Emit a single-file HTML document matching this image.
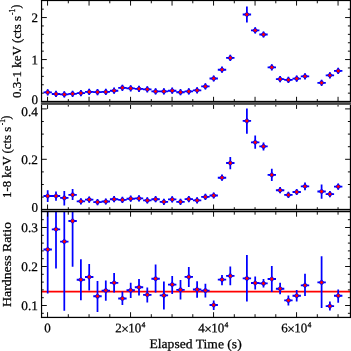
<!DOCTYPE html><html><head><meta charset="utf-8"><style>html,body{margin:0;padding:0;background:#fff}svg{display:block;will-change:transform}text{font-family:"Liberation Serif",serif;fill:#000;stroke:#000;stroke-width:0.25px}</style></head><body>
<svg width="351" height="351" viewBox="0 0 351 351">
<rect width="351" height="351" fill="#fff"/>
<defs>
<clipPath id="c0"><rect x="41.55" y="0.5" width="308.9" height="101.1"/></clipPath>
<clipPath id="c104"><rect x="41.55" y="104.0" width="308.9" height="105.4"/></clipPath>
<clipPath id="c211"><rect x="41.55" y="211.5" width="308.9" height="105.89999999999998"/></clipPath>
</defs>
<path d="M41.55 291.6H350.45" stroke="#ff0000" stroke-width="1.9"/>
<g clip-path="url(#c0)">
<path d="M43.50 92.30h8.4M51.80 93.95h8.4M60.10 94.40h8.4M68.40 93.80h8.4M76.70 93.10h8.4M85.00 91.90h8.4M93.30 92.10h8.4M101.60 91.90h8.4M109.90 90.70h8.4M118.20 87.80h8.4M126.50 88.30h8.4M134.80 88.80h8.4M143.10 89.30h8.4M151.40 91.40h8.4M159.70 91.40h8.4M168.00 90.70h8.4M176.30 92.20h8.4M184.60 91.40h8.4M192.90 90.30h8.4M201.20 86.40h8.4M209.50 78.50h8.4M217.80 69.70h8.4M226.10 57.90h8.4M242.70 14.50h8.4M251.00 30.40h8.4M259.30 34.50h8.4M267.60 67.30h8.4M275.90 79.10h8.4M284.20 79.90h8.4M292.50 78.60h8.4M300.80 76.30h8.4M317.40 82.80h8.4M325.70 75.30h8.4M334.00 70.90h8.4" stroke="#0000ff" stroke-width="1.85" fill="none"/>
<path d="M47.70 89.20V95.40M56.00 90.85V97.05M64.30 91.30V97.50M72.60 90.70V96.90M80.90 90.00V96.20M89.20 88.80V95.00M97.50 89.00V95.20M105.80 88.80V95.00M114.10 87.60V93.80M122.40 84.70V90.90M130.70 85.20V91.40M139.00 85.70V91.90M147.30 86.20V92.40M155.60 88.30V94.50M163.90 88.30V94.50M172.20 87.60V93.80M180.50 89.10V95.30M188.80 88.30V94.50M197.10 87.20V93.40M205.40 83.30V89.50M213.70 75.40V81.60M222.00 66.60V72.80M230.30 54.80V61.00M246.90 6.50V22.60M255.20 27.30V33.50M263.50 31.40V37.60M271.80 64.20V70.40M280.10 76.00V82.20M288.40 76.80V83.00M296.70 75.50V81.70M305.00 73.20V79.40M321.60 79.70V85.90M329.90 72.20V78.40M338.20 67.80V74.00" stroke="#0000ff" stroke-width="1.75" fill="none"/>
<path d="M47.70 89.25l3.05 3.05l-3.05 3.05l-3.05 -3.05zM56.00 90.90l3.05 3.05l-3.05 3.05l-3.05 -3.05zM64.30 91.35l3.05 3.05l-3.05 3.05l-3.05 -3.05zM72.60 90.75l3.05 3.05l-3.05 3.05l-3.05 -3.05zM80.90 90.05l3.05 3.05l-3.05 3.05l-3.05 -3.05zM89.20 88.85l3.05 3.05l-3.05 3.05l-3.05 -3.05zM97.50 89.05l3.05 3.05l-3.05 3.05l-3.05 -3.05zM105.80 88.85l3.05 3.05l-3.05 3.05l-3.05 -3.05zM114.10 87.65l3.05 3.05l-3.05 3.05l-3.05 -3.05zM122.40 84.75l3.05 3.05l-3.05 3.05l-3.05 -3.05zM130.70 85.25l3.05 3.05l-3.05 3.05l-3.05 -3.05zM139.00 85.75l3.05 3.05l-3.05 3.05l-3.05 -3.05zM147.30 86.25l3.05 3.05l-3.05 3.05l-3.05 -3.05zM155.60 88.35l3.05 3.05l-3.05 3.05l-3.05 -3.05zM163.90 88.35l3.05 3.05l-3.05 3.05l-3.05 -3.05zM172.20 87.65l3.05 3.05l-3.05 3.05l-3.05 -3.05zM180.50 89.15l3.05 3.05l-3.05 3.05l-3.05 -3.05zM188.80 88.35l3.05 3.05l-3.05 3.05l-3.05 -3.05zM197.10 87.25l3.05 3.05l-3.05 3.05l-3.05 -3.05zM205.40 83.35l3.05 3.05l-3.05 3.05l-3.05 -3.05zM213.70 75.45l3.05 3.05l-3.05 3.05l-3.05 -3.05zM222.00 66.65l3.05 3.05l-3.05 3.05l-3.05 -3.05zM230.30 54.85l3.05 3.05l-3.05 3.05l-3.05 -3.05zM246.90 11.45l3.05 3.05l-3.05 3.05l-3.05 -3.05zM255.20 27.35l3.05 3.05l-3.05 3.05l-3.05 -3.05zM263.50 31.45l3.05 3.05l-3.05 3.05l-3.05 -3.05zM271.80 64.25l3.05 3.05l-3.05 3.05l-3.05 -3.05zM280.10 76.05l3.05 3.05l-3.05 3.05l-3.05 -3.05zM288.40 76.85l3.05 3.05l-3.05 3.05l-3.05 -3.05zM296.70 75.55l3.05 3.05l-3.05 3.05l-3.05 -3.05zM305.00 73.25l3.05 3.05l-3.05 3.05l-3.05 -3.05zM321.60 79.75l3.05 3.05l-3.05 3.05l-3.05 -3.05zM329.90 72.25l3.05 3.05l-3.05 3.05l-3.05 -3.05zM338.20 67.85l3.05 3.05l-3.05 3.05l-3.05 -3.05z" fill="#0000ff"/>
<path d="M47.70 90.40l1.9 1.9l-1.9 1.9l-1.9 -1.9zM56.00 92.05l1.9 1.9l-1.9 1.9l-1.9 -1.9zM64.30 92.50l1.9 1.9l-1.9 1.9l-1.9 -1.9zM72.60 91.90l1.9 1.9l-1.9 1.9l-1.9 -1.9zM80.90 91.20l1.9 1.9l-1.9 1.9l-1.9 -1.9zM89.20 90.00l1.9 1.9l-1.9 1.9l-1.9 -1.9zM97.50 90.20l1.9 1.9l-1.9 1.9l-1.9 -1.9zM105.80 90.00l1.9 1.9l-1.9 1.9l-1.9 -1.9zM114.10 88.80l1.9 1.9l-1.9 1.9l-1.9 -1.9zM122.40 85.90l1.9 1.9l-1.9 1.9l-1.9 -1.9zM130.70 86.40l1.9 1.9l-1.9 1.9l-1.9 -1.9zM139.00 86.90l1.9 1.9l-1.9 1.9l-1.9 -1.9zM147.30 87.40l1.9 1.9l-1.9 1.9l-1.9 -1.9zM155.60 89.50l1.9 1.9l-1.9 1.9l-1.9 -1.9zM163.90 89.50l1.9 1.9l-1.9 1.9l-1.9 -1.9zM172.20 88.80l1.9 1.9l-1.9 1.9l-1.9 -1.9zM180.50 90.30l1.9 1.9l-1.9 1.9l-1.9 -1.9zM188.80 89.50l1.9 1.9l-1.9 1.9l-1.9 -1.9zM197.10 88.40l1.9 1.9l-1.9 1.9l-1.9 -1.9zM205.40 84.50l1.9 1.9l-1.9 1.9l-1.9 -1.9zM213.70 76.60l1.9 1.9l-1.9 1.9l-1.9 -1.9zM222.00 67.80l1.9 1.9l-1.9 1.9l-1.9 -1.9zM230.30 56.00l1.9 1.9l-1.9 1.9l-1.9 -1.9zM246.90 12.60l1.9 1.9l-1.9 1.9l-1.9 -1.9zM255.20 28.50l1.9 1.9l-1.9 1.9l-1.9 -1.9zM263.50 32.60l1.9 1.9l-1.9 1.9l-1.9 -1.9zM271.80 65.40l1.9 1.9l-1.9 1.9l-1.9 -1.9zM280.10 77.20l1.9 1.9l-1.9 1.9l-1.9 -1.9zM288.40 78.00l1.9 1.9l-1.9 1.9l-1.9 -1.9zM296.70 76.70l1.9 1.9l-1.9 1.9l-1.9 -1.9zM305.00 74.40l1.9 1.9l-1.9 1.9l-1.9 -1.9zM321.60 80.90l1.9 1.9l-1.9 1.9l-1.9 -1.9zM329.90 73.40l1.9 1.9l-1.9 1.9l-1.9 -1.9zM338.20 69.00l1.9 1.9l-1.9 1.9l-1.9 -1.9z" fill="#ff0000"/>
</g>
<g clip-path="url(#c104)">
<path d="M43.50 196.00h8.4M51.80 196.00h8.4M60.10 197.90h8.4M68.40 194.80h8.4M76.70 201.30h8.4M85.00 199.60h8.4M93.30 202.10h8.4M101.60 201.50h8.4M109.90 199.20h8.4M118.20 199.90h8.4M126.50 198.70h8.4M134.80 198.40h8.4M143.10 200.40h8.4M151.40 199.20h8.4M159.70 201.80h8.4M168.00 199.40h8.4M176.30 201.80h8.4M184.60 199.10h8.4M192.90 200.30h8.4M201.20 196.90h8.4M209.50 195.50h8.4M217.80 177.70h8.4M226.10 163.00h8.4M242.70 120.90h8.4M251.00 142.30h8.4M259.30 146.40h8.4M267.60 174.90h8.4M275.90 190.20h8.4M284.20 194.90h8.4M292.50 192.00h8.4M300.80 186.30h8.4M317.40 191.50h8.4M325.70 194.10h8.4M334.00 186.60h8.4" stroke="#0000ff" stroke-width="1.85" fill="none"/>
<path d="M47.70 190.20V202.00M56.00 191.40V200.80M64.30 190.90V205.60M72.60 189.10V199.90M80.90 198.20V204.40M89.20 196.50V202.70M97.50 199.00V205.20M105.80 198.40V204.60M114.10 196.10V202.30M122.40 196.80V203.00M130.70 195.60V201.80M139.00 195.30V201.50M147.30 197.30V203.50M155.60 196.10V202.30M163.90 198.70V204.90M172.20 196.30V202.50M180.50 198.70V204.90M188.80 196.00V202.20M197.10 197.20V203.40M205.40 193.80V200.00M213.70 192.40V198.60M222.00 174.60V180.80M230.30 157.00V169.20M246.90 108.50V133.80M255.20 135.50V148.80M263.50 142.50V150.60M271.80 168.70V181.10M280.10 187.10V193.30M288.40 191.80V198.00M296.70 188.90V195.10M305.00 182.40V190.20M321.60 184.50V198.70M329.90 191.00V197.20M338.20 183.50V189.70" stroke="#0000ff" stroke-width="1.75" fill="none"/>
<path d="M47.70 192.95l3.05 3.05l-3.05 3.05l-3.05 -3.05zM56.00 192.95l3.05 3.05l-3.05 3.05l-3.05 -3.05zM64.30 194.85l3.05 3.05l-3.05 3.05l-3.05 -3.05zM72.60 191.75l3.05 3.05l-3.05 3.05l-3.05 -3.05zM80.90 198.25l3.05 3.05l-3.05 3.05l-3.05 -3.05zM89.20 196.55l3.05 3.05l-3.05 3.05l-3.05 -3.05zM97.50 199.05l3.05 3.05l-3.05 3.05l-3.05 -3.05zM105.80 198.45l3.05 3.05l-3.05 3.05l-3.05 -3.05zM114.10 196.15l3.05 3.05l-3.05 3.05l-3.05 -3.05zM122.40 196.85l3.05 3.05l-3.05 3.05l-3.05 -3.05zM130.70 195.65l3.05 3.05l-3.05 3.05l-3.05 -3.05zM139.00 195.35l3.05 3.05l-3.05 3.05l-3.05 -3.05zM147.30 197.35l3.05 3.05l-3.05 3.05l-3.05 -3.05zM155.60 196.15l3.05 3.05l-3.05 3.05l-3.05 -3.05zM163.90 198.75l3.05 3.05l-3.05 3.05l-3.05 -3.05zM172.20 196.35l3.05 3.05l-3.05 3.05l-3.05 -3.05zM180.50 198.75l3.05 3.05l-3.05 3.05l-3.05 -3.05zM188.80 196.05l3.05 3.05l-3.05 3.05l-3.05 -3.05zM197.10 197.25l3.05 3.05l-3.05 3.05l-3.05 -3.05zM205.40 193.85l3.05 3.05l-3.05 3.05l-3.05 -3.05zM213.70 192.45l3.05 3.05l-3.05 3.05l-3.05 -3.05zM222.00 174.65l3.05 3.05l-3.05 3.05l-3.05 -3.05zM230.30 159.95l3.05 3.05l-3.05 3.05l-3.05 -3.05zM246.90 117.85l3.05 3.05l-3.05 3.05l-3.05 -3.05zM255.20 139.25l3.05 3.05l-3.05 3.05l-3.05 -3.05zM263.50 143.35l3.05 3.05l-3.05 3.05l-3.05 -3.05zM271.80 171.85l3.05 3.05l-3.05 3.05l-3.05 -3.05zM280.10 187.15l3.05 3.05l-3.05 3.05l-3.05 -3.05zM288.40 191.85l3.05 3.05l-3.05 3.05l-3.05 -3.05zM296.70 188.95l3.05 3.05l-3.05 3.05l-3.05 -3.05zM305.00 183.25l3.05 3.05l-3.05 3.05l-3.05 -3.05zM321.60 188.45l3.05 3.05l-3.05 3.05l-3.05 -3.05zM329.90 191.05l3.05 3.05l-3.05 3.05l-3.05 -3.05zM338.20 183.55l3.05 3.05l-3.05 3.05l-3.05 -3.05z" fill="#0000ff"/>
<path d="M47.70 194.10l1.9 1.9l-1.9 1.9l-1.9 -1.9zM56.00 194.10l1.9 1.9l-1.9 1.9l-1.9 -1.9zM64.30 196.00l1.9 1.9l-1.9 1.9l-1.9 -1.9zM72.60 192.90l1.9 1.9l-1.9 1.9l-1.9 -1.9zM80.90 199.40l1.9 1.9l-1.9 1.9l-1.9 -1.9zM89.20 197.70l1.9 1.9l-1.9 1.9l-1.9 -1.9zM97.50 200.20l1.9 1.9l-1.9 1.9l-1.9 -1.9zM105.80 199.60l1.9 1.9l-1.9 1.9l-1.9 -1.9zM114.10 197.30l1.9 1.9l-1.9 1.9l-1.9 -1.9zM122.40 198.00l1.9 1.9l-1.9 1.9l-1.9 -1.9zM130.70 196.80l1.9 1.9l-1.9 1.9l-1.9 -1.9zM139.00 196.50l1.9 1.9l-1.9 1.9l-1.9 -1.9zM147.30 198.50l1.9 1.9l-1.9 1.9l-1.9 -1.9zM155.60 197.30l1.9 1.9l-1.9 1.9l-1.9 -1.9zM163.90 199.90l1.9 1.9l-1.9 1.9l-1.9 -1.9zM172.20 197.50l1.9 1.9l-1.9 1.9l-1.9 -1.9zM180.50 199.90l1.9 1.9l-1.9 1.9l-1.9 -1.9zM188.80 197.20l1.9 1.9l-1.9 1.9l-1.9 -1.9zM197.10 198.40l1.9 1.9l-1.9 1.9l-1.9 -1.9zM205.40 195.00l1.9 1.9l-1.9 1.9l-1.9 -1.9zM213.70 193.60l1.9 1.9l-1.9 1.9l-1.9 -1.9zM222.00 175.80l1.9 1.9l-1.9 1.9l-1.9 -1.9zM230.30 161.10l1.9 1.9l-1.9 1.9l-1.9 -1.9zM246.90 119.00l1.9 1.9l-1.9 1.9l-1.9 -1.9zM255.20 140.40l1.9 1.9l-1.9 1.9l-1.9 -1.9zM263.50 144.50l1.9 1.9l-1.9 1.9l-1.9 -1.9zM271.80 173.00l1.9 1.9l-1.9 1.9l-1.9 -1.9zM280.10 188.30l1.9 1.9l-1.9 1.9l-1.9 -1.9zM288.40 193.00l1.9 1.9l-1.9 1.9l-1.9 -1.9zM296.70 190.10l1.9 1.9l-1.9 1.9l-1.9 -1.9zM305.00 184.40l1.9 1.9l-1.9 1.9l-1.9 -1.9zM321.60 189.60l1.9 1.9l-1.9 1.9l-1.9 -1.9zM329.90 192.20l1.9 1.9l-1.9 1.9l-1.9 -1.9zM338.20 184.70l1.9 1.9l-1.9 1.9l-1.9 -1.9z" fill="#ff0000"/>
</g>
<g clip-path="url(#c211)">
<path d="M43.50 249.50h8.4M51.80 229.30h8.4M60.10 241.60h8.4M68.40 221.00h8.4M76.70 279.70h8.4M85.00 277.00h8.4M93.30 296.20h8.4M101.60 290.60h8.4M109.90 282.80h8.4M118.20 298.50h8.4M126.50 290.20h8.4M134.80 287.20h8.4M143.10 294.80h8.4M151.40 278.70h8.4M159.70 295.40h8.4M168.00 284.60h8.4M176.30 289.80h8.4M184.60 276.90h8.4M192.90 289.50h8.4M201.20 290.60h8.4M209.50 305.00h8.4M217.80 279.60h8.4M226.10 275.90h8.4M242.70 278.40h8.4M251.00 283.00h8.4M259.30 283.40h8.4M267.60 279.00h8.4M275.90 288.70h8.4M284.20 300.40h8.4M292.50 295.70h8.4M300.80 285.30h8.4M317.40 282.40h8.4M325.70 306.10h8.4M334.00 295.70h8.4" stroke="#0000ff" stroke-width="1.85" fill="none"/>
<path d="M47.70 200.00V293.40M56.00 200.00V268.50M64.30 200.00V310.70M72.60 200.00V266.70M80.90 259.30V300.20M89.20 263.90V290.50M97.50 280.90V311.90M105.80 280.60V300.70M114.10 273.00V292.60M122.40 291.50V305.00M130.70 282.80V298.00M139.00 279.10V295.40M147.30 287.40V302.50M155.60 264.60V292.60M163.90 281.50V309.60M172.20 275.90V293.90M180.50 280.00V299.40M188.80 267.00V286.90M197.10 281.30V297.80M205.40 283.70V297.60M213.70 300.40V310.00M222.00 275.00V285.20M230.30 266.50V285.20M246.90 255.10V301.40M255.20 276.60V289.40M263.50 279.00V287.50M271.80 266.00V291.90M280.10 282.70V294.30M288.40 295.40V305.60M296.70 289.90V301.50M305.00 273.70V295.90M321.60 256.30V308.00M329.90 301.50V310.40M338.20 289.60V302.70" stroke="#0000ff" stroke-width="1.75" fill="none"/>
<path d="M47.70 246.45l3.05 3.05l-3.05 3.05l-3.05 -3.05zM56.00 226.25l3.05 3.05l-3.05 3.05l-3.05 -3.05zM64.30 238.55l3.05 3.05l-3.05 3.05l-3.05 -3.05zM72.60 217.95l3.05 3.05l-3.05 3.05l-3.05 -3.05zM80.90 276.65l3.05 3.05l-3.05 3.05l-3.05 -3.05zM89.20 273.95l3.05 3.05l-3.05 3.05l-3.05 -3.05zM97.50 293.15l3.05 3.05l-3.05 3.05l-3.05 -3.05zM105.80 287.55l3.05 3.05l-3.05 3.05l-3.05 -3.05zM114.10 279.75l3.05 3.05l-3.05 3.05l-3.05 -3.05zM122.40 295.45l3.05 3.05l-3.05 3.05l-3.05 -3.05zM130.70 287.15l3.05 3.05l-3.05 3.05l-3.05 -3.05zM139.00 284.15l3.05 3.05l-3.05 3.05l-3.05 -3.05zM147.30 291.75l3.05 3.05l-3.05 3.05l-3.05 -3.05zM155.60 275.65l3.05 3.05l-3.05 3.05l-3.05 -3.05zM163.90 292.35l3.05 3.05l-3.05 3.05l-3.05 -3.05zM172.20 281.55l3.05 3.05l-3.05 3.05l-3.05 -3.05zM180.50 286.75l3.05 3.05l-3.05 3.05l-3.05 -3.05zM188.80 273.85l3.05 3.05l-3.05 3.05l-3.05 -3.05zM197.10 286.45l3.05 3.05l-3.05 3.05l-3.05 -3.05zM205.40 287.55l3.05 3.05l-3.05 3.05l-3.05 -3.05zM213.70 301.95l3.05 3.05l-3.05 3.05l-3.05 -3.05zM222.00 276.55l3.05 3.05l-3.05 3.05l-3.05 -3.05zM230.30 272.85l3.05 3.05l-3.05 3.05l-3.05 -3.05zM246.90 275.35l3.05 3.05l-3.05 3.05l-3.05 -3.05zM255.20 279.95l3.05 3.05l-3.05 3.05l-3.05 -3.05zM263.50 280.35l3.05 3.05l-3.05 3.05l-3.05 -3.05zM271.80 275.95l3.05 3.05l-3.05 3.05l-3.05 -3.05zM280.10 285.65l3.05 3.05l-3.05 3.05l-3.05 -3.05zM288.40 297.35l3.05 3.05l-3.05 3.05l-3.05 -3.05zM296.70 292.65l3.05 3.05l-3.05 3.05l-3.05 -3.05zM305.00 282.25l3.05 3.05l-3.05 3.05l-3.05 -3.05zM321.60 279.35l3.05 3.05l-3.05 3.05l-3.05 -3.05zM329.90 303.05l3.05 3.05l-3.05 3.05l-3.05 -3.05zM338.20 292.65l3.05 3.05l-3.05 3.05l-3.05 -3.05z" fill="#0000ff"/>
<path d="M47.70 247.60l1.9 1.9l-1.9 1.9l-1.9 -1.9zM56.00 227.40l1.9 1.9l-1.9 1.9l-1.9 -1.9zM64.30 239.70l1.9 1.9l-1.9 1.9l-1.9 -1.9zM72.60 219.10l1.9 1.9l-1.9 1.9l-1.9 -1.9zM80.90 277.80l1.9 1.9l-1.9 1.9l-1.9 -1.9zM89.20 275.10l1.9 1.9l-1.9 1.9l-1.9 -1.9zM97.50 294.30l1.9 1.9l-1.9 1.9l-1.9 -1.9zM105.80 288.70l1.9 1.9l-1.9 1.9l-1.9 -1.9zM114.10 280.90l1.9 1.9l-1.9 1.9l-1.9 -1.9zM122.40 296.60l1.9 1.9l-1.9 1.9l-1.9 -1.9zM130.70 288.30l1.9 1.9l-1.9 1.9l-1.9 -1.9zM139.00 285.30l1.9 1.9l-1.9 1.9l-1.9 -1.9zM147.30 292.90l1.9 1.9l-1.9 1.9l-1.9 -1.9zM155.60 276.80l1.9 1.9l-1.9 1.9l-1.9 -1.9zM163.90 293.50l1.9 1.9l-1.9 1.9l-1.9 -1.9zM172.20 282.70l1.9 1.9l-1.9 1.9l-1.9 -1.9zM180.50 287.90l1.9 1.9l-1.9 1.9l-1.9 -1.9zM188.80 275.00l1.9 1.9l-1.9 1.9l-1.9 -1.9zM197.10 287.60l1.9 1.9l-1.9 1.9l-1.9 -1.9zM205.40 288.70l1.9 1.9l-1.9 1.9l-1.9 -1.9zM213.70 303.10l1.9 1.9l-1.9 1.9l-1.9 -1.9zM222.00 277.70l1.9 1.9l-1.9 1.9l-1.9 -1.9zM230.30 274.00l1.9 1.9l-1.9 1.9l-1.9 -1.9zM246.90 276.50l1.9 1.9l-1.9 1.9l-1.9 -1.9zM255.20 281.10l1.9 1.9l-1.9 1.9l-1.9 -1.9zM263.50 281.50l1.9 1.9l-1.9 1.9l-1.9 -1.9zM271.80 277.10l1.9 1.9l-1.9 1.9l-1.9 -1.9zM280.10 286.80l1.9 1.9l-1.9 1.9l-1.9 -1.9zM288.40 298.50l1.9 1.9l-1.9 1.9l-1.9 -1.9zM296.70 293.80l1.9 1.9l-1.9 1.9l-1.9 -1.9zM305.00 283.40l1.9 1.9l-1.9 1.9l-1.9 -1.9zM321.60 280.50l1.9 1.9l-1.9 1.9l-1.9 -1.9zM329.90 304.20l1.9 1.9l-1.9 1.9l-1.9 -1.9zM338.20 293.80l1.9 1.9l-1.9 1.9l-1.9 -1.9z" fill="#ff0000"/>
</g>
<path d="M47.55 0.50V5.60M68.30 0.50V3.30M89.05 0.50V5.60M109.80 0.50V3.30M130.55 0.50V5.60M151.30 0.50V3.30M172.05 0.50V5.60M192.80 0.50V3.30M213.55 0.50V5.60M234.30 0.50V3.30M255.05 0.50V5.60M275.80 0.50V3.30M296.55 0.50V5.60M317.30 0.50V3.30M338.05 0.50V5.60M47.55 101.60V96.80M68.30 101.60V99.10M89.05 101.60V96.80M109.80 101.60V99.10M130.55 101.60V96.80M151.30 101.60V99.10M172.05 101.60V96.80M192.80 101.60V99.10M213.55 101.60V96.80M234.30 101.60V99.10M255.05 101.60V96.80M275.80 101.60V99.10M296.55 101.60V96.80M317.30 101.60V99.10M338.05 101.60V96.80M47.55 104.00V108.90M68.30 104.00V106.60M89.05 104.00V106.60M109.80 104.00V106.60M130.55 104.00V108.90M151.30 104.00V106.60M172.05 104.00V106.60M192.80 104.00V106.60M213.55 104.00V108.90M234.30 104.00V106.60M255.05 104.00V106.60M275.80 104.00V106.60M296.55 104.00V108.90M317.30 104.00V106.60M338.05 104.00V106.60M47.55 209.40V204.50M68.30 209.40V207.20M89.05 209.40V207.20M109.80 209.40V207.20M130.55 209.40V204.50M151.30 209.40V207.20M172.05 209.40V207.20M192.80 209.40V207.20M213.55 209.40V204.50M234.30 209.40V207.20M255.05 209.40V207.20M275.80 209.40V207.20M296.55 209.40V204.50M317.30 209.40V207.20M338.05 209.40V207.20M47.55 211.50V216.70M68.30 211.50V214.70M89.05 211.50V214.70M109.80 211.50V214.70M130.55 211.50V216.70M151.30 211.50V214.70M172.05 211.50V214.70M192.80 211.50V214.70M213.55 211.50V216.70M234.30 211.50V214.70M255.05 211.50V214.70M275.80 211.50V214.70M296.55 211.50V216.70M317.30 211.50V214.70M338.05 211.50V214.70M47.55 317.40V312.20M68.30 317.40V314.20M89.05 317.40V314.20M109.80 317.40V314.20M130.55 317.40V312.20M151.30 317.40V314.20M172.05 317.40V314.20M192.80 317.40V314.20M213.55 317.40V312.20M234.30 317.40V314.20M255.05 317.40V314.20M275.80 317.40V314.20M296.55 317.40V312.20M317.30 317.40V314.20M338.05 317.40V314.20M41.55 93.15H43.8M350.45 93.15H347.9M41.55 84.75H43.8M350.45 84.75H347.9M41.55 76.35H43.8M350.45 76.35H347.9M41.55 67.95H43.8M350.45 67.95H347.9M41.55 59.55H46.8M350.45 59.55H345.1M41.55 51.15H43.8M350.45 51.15H347.9M41.55 42.75H43.8M350.45 42.75H347.9M41.55 34.35H43.8M350.45 34.35H347.9M41.55 25.95H43.8M350.45 25.95H347.9M41.55 17.55H46.8M350.45 17.55H345.1M41.55 9.15H43.8M350.45 9.15H347.9M41.55 197.10H43.8M350.45 197.10H347.9M41.55 184.50H43.8M350.45 184.50H347.9M41.55 171.90H43.8M350.45 171.90H347.9M41.55 159.30H46.8M350.45 159.30H345.1M41.55 146.70H43.8M350.45 146.70H347.9M41.55 134.10H43.8M350.45 134.10H347.9M41.55 121.50H43.8M350.45 121.50H347.9M41.55 108.90H46.8M350.45 108.90H345.1M41.55 313.30H43.8M350.45 313.30H347.9M41.55 305.50H46.8M350.45 305.50H345.1M41.55 297.70H43.8M350.45 297.70H347.9M41.55 289.90H43.8M350.45 289.90H347.9M41.55 282.10H43.8M350.45 282.10H347.9M41.55 274.30H43.8M350.45 274.30H347.9M41.55 266.50H46.8M350.45 266.50H345.1M41.55 258.70H43.8M350.45 258.70H347.9M41.55 250.90H43.8M350.45 250.90H347.9M41.55 243.10H43.8M350.45 243.10H347.9M41.55 235.30H43.8M350.45 235.30H347.9M41.55 227.50H46.8M350.45 227.50H345.1M41.55 219.70H43.8M350.45 219.70H347.9" stroke="#000" stroke-width="0.95" fill="none"/>
<rect x="40.95" y="-1" width="1.2" height="319.05" fill="#000"/>
<rect x="349.85" y="-1" width="1.2" height="319.05" fill="#000"/>
<rect x="40.95" y="102" width="310.10" height="1" fill="#5c5c5c"/>
<rect x="40.95" y="103" width="310.10" height="1" fill="#464646"/>
<rect x="40.95" y="104" width="310.10" height="1" fill="#585858"/>
<rect x="40.95" y="-0.2" width="310.10" height="1.30" fill="#000"/>
<rect x="40.95" y="100.85" width="310.10" height="1.15" fill="#000"/>
<rect x="40.95" y="208.85" width="310.10" height="1.40" fill="#000"/>
<rect x="40.95" y="210.72" width="310.10" height="1.53" fill="#000"/>
<rect x="40.95" y="316.8" width="310.10" height="1.25" fill="#000"/>
<g>
<text x="37.9" y="21.9" transform="rotate(0.05 37.9 21.9)" font-size="13.0" text-anchor="end">2</text>
<text x="37.9" y="64.2" transform="rotate(0.05 37.9 64.2)" font-size="13.0" text-anchor="end">1</text>
<text x="37.9" y="104.1" transform="rotate(0.05 37.9 104.1)" font-size="13.0" text-anchor="end">0</text>
<text x="37.9" y="115.9" transform="rotate(0.05 37.9 115.9)" font-size="13.0" text-anchor="end" textLength="16.6" lengthAdjust="spacingAndGlyphs">0.4</text>
<text x="37.9" y="163.9" transform="rotate(0.05 37.9 163.9)" font-size="13.0" text-anchor="end" textLength="16.6" lengthAdjust="spacingAndGlyphs">0.2</text>
<text x="37.9" y="211.8" transform="rotate(0.05 37.9 211.8)" font-size="13.0" text-anchor="end">0</text>
<text x="37.9" y="232.1" transform="rotate(0.05 37.9 232.1)" font-size="13.0" text-anchor="end" textLength="16.6" lengthAdjust="spacingAndGlyphs">0.3</text>
<text x="37.9" y="271.0" transform="rotate(0.05 37.9 271.0)" font-size="13.0" text-anchor="end" textLength="16.6" lengthAdjust="spacingAndGlyphs">0.2</text>
<text x="37.9" y="310.0" transform="rotate(0.05 37.9 310.0)" font-size="13.0" text-anchor="end" textLength="16.6" lengthAdjust="spacingAndGlyphs">0.1</text>
<text x="47.60" y="332.20" transform="rotate(0.05 47.60 332.20)" font-size="13.0" text-anchor="middle">0</text>
<text x="115.25" y="332.20" transform="rotate(0.05 115.25 332.20)" font-size="13.0">2</text>
<text x="121.25" y="333.50" transform="rotate(0.05 121.25 333.50)" font-size="13.4">×</text>
<text x="128.15" y="332.20" transform="rotate(0.05 128.15 332.20)" font-size="13.0" textLength="13.0" lengthAdjust="spacingAndGlyphs">10</text>
<text x="141.55" y="327.20" transform="rotate(0.05 141.55 327.20)" font-size="7.7">4</text>
<text x="198.25" y="332.20" transform="rotate(0.05 198.25 332.20)" font-size="13.0">4</text>
<text x="204.25" y="333.50" transform="rotate(0.05 204.25 333.50)" font-size="13.4">×</text>
<text x="211.15" y="332.20" transform="rotate(0.05 211.15 332.20)" font-size="13.0" textLength="13.0" lengthAdjust="spacingAndGlyphs">10</text>
<text x="224.55" y="327.20" transform="rotate(0.05 224.55 327.20)" font-size="7.7">4</text>
<text x="281.25" y="332.20" transform="rotate(0.05 281.25 332.20)" font-size="13.0">6</text>
<text x="287.25" y="333.50" transform="rotate(0.05 287.25 333.50)" font-size="13.4">×</text>
<text x="294.15" y="332.20" transform="rotate(0.05 294.15 332.20)" font-size="13.0" textLength="13.0" lengthAdjust="spacingAndGlyphs">10</text>
<text x="307.55" y="327.20" transform="rotate(0.05 307.55 327.20)" font-size="7.7">4</text>
<text x="149.5" y="348.1" transform="rotate(0.05 149.5 348.1)" font-size="13.0" textLength="92.2" lengthAdjust="spacingAndGlyphs">Elapsed Time (s)</text>
<g transform="translate(20.5 0) rotate(-90)"><text x="-98.00" y="0" font-size="13.0" textLength="82.00" lengthAdjust="spacingAndGlyphs">0.3-1 keV (cts s</text><text x="-15.10" y="-5.3" font-size="7.4" textLength="6.2" lengthAdjust="spacingAndGlyphs">-1</text><text x="-8.50" y="-0.25" font-size="11.7">)</text></g>
<g transform="translate(10.7 0) rotate(-90)"><text x="-197.90" y="0" font-size="13.0" textLength="71.10" lengthAdjust="spacingAndGlyphs">1-8 keV (cts s</text><text x="-125.30" y="-5.3" font-size="7.4" textLength="6.2" lengthAdjust="spacingAndGlyphs">-1</text><text x="-119.40" y="-0.25" font-size="11.7">)</text></g>
<g transform="translate(11.1 0) rotate(-90)"><text x="-307.0" y="0" font-size="13.0" textLength="85.0" lengthAdjust="spacingAndGlyphs">Hardness Ratio</text></g>
</g>
</svg></body></html>
